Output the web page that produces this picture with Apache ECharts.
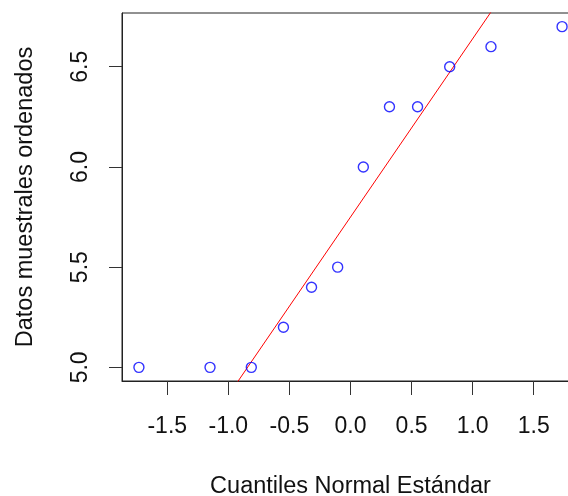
<!DOCTYPE html>
<html>
<head>
<meta charset="utf-8">
<script src="https://cdn.jsdelivr.net/npm/echarts@6/dist/echarts.min.js"></script>
<style>
html,body{margin:0;padding:0;background:#fff;}
#chart{width:568px;height:496px;}
</style>
</head>
<body>
<div id="chart"></div>
<script>
// Theoretical normal quantiles (x) and ordered sample values (y)
const theoreticalQuantiles = [-1.732, -1.150, -0.812, -0.549, -0.319, -0.105, 0.105, 0.319, 0.549, 0.812, 1.150, 1.732];
const sampleValues = [5.0, 5.0, 5.0, 5.2, 5.4, 5.5, 6.0, 6.3, 6.3, 6.5, 6.6, 6.7];
const xTicks = [-1.5, -1.0, -0.5, 0.0, 0.5, 1.0, 1.5];
const yTicks = [5.0, 5.5, 6.0, 6.5];
const xTitle = 'Cuantiles Normal Estándar';
const yTitle = 'Datos muestrales ordenados';

// R-style axis limits (data range extended by 4%)
function ext(arr) {
  const lo = Math.min(...arr), hi = Math.max(...arr), d = (hi - lo) * 0.04;
  return [lo - d, hi + d];
}
const [xmin, xmax] = ext(theoreticalQuantiles);
const [ymin, ymax] = ext(sampleValues);

// qqline through first and third quartiles (as R's qqline)
function quantile7(arr, p) {
  const s = arr.slice().sort((a, b) => a - b);
  const h = (s.length - 1) * p, lo = Math.floor(h);
  return s[lo] + (h - lo) * ((s[lo + 1] ?? s[lo]) - s[lo]);
}
const q1 = quantile7(sampleValues, 0.25), q3 = quantile7(sampleValues, 0.75);
const z = 0.6744897501960817;
const slope = (q3 - q1) / (2 * z);
const intercept = q1 + z * slope;
const lineData = [[xmin - 1, intercept + slope * (xmin - 1)], [xmax + 1, intercept + slope * (xmax + 1)]];

const font = 'Liberation Sans, Arial, sans-serif';
const txt = '#111';

const chart = echarts.init(document.getElementById('chart'), null, {renderer: 'canvas'});
chart.setOption({
  animation: false,
  backgroundColor: '#fff',
  grid: {
    left: 122, top: 13, width: 457, height: 368,
    outerBoundsMode: 'none', containLabel: false,
    show: true, borderColor: '#222', borderWidth: 1, backgroundColor: 'transparent'
  },
  xAxis: {
    type: 'value', min: xmin, max: xmax,
    name: xTitle, nameLocation: 'middle', nameGap: 94,
    nameTextStyle: {fontFamily: font, fontSize: 23.5, color: txt},
    axisLine: {show: true, onZero: false, lineStyle: {color: '#222', width: 1}},
    axisTick: {show: true, inside: false, length: 14, customValues: xTicks, lineStyle: {color: '#333', width: 1}},
    axisLabel: {show: true, margin: 34, customValues: xTicks, fontFamily: font, fontSize: 23, color: txt,
      formatter: v => v.toFixed(1)},
    splitLine: {show: false}
  },
  yAxis: {
    type: 'value', min: ymin, max: ymax,
    name: yTitle, nameLocation: 'middle', nameGap: 84, nameRotate: 90,
    nameTextStyle: {fontFamily: font, fontSize: 23.5, color: txt},
    axisLine: {show: true, onZero: false, lineStyle: {color: '#222', width: 1}},
    axisTick: {show: true, inside: false, length: 13, customValues: yTicks, lineStyle: {color: '#333', width: 1}},
    axisLabel: {show: true, rotate: 90, margin: 30, customValues: yTicks, fontFamily: font, fontSize: 23, color: txt,
      formatter: v => v.toFixed(1)},
    splitLine: {show: false}
  },
  series: [
    {
      type: 'line', data: lineData, symbol: 'none', clip: true, silent: true,
      lineStyle: {color: '#ff0000', width: 1}, z: 1
    },
    {
      type: 'scatter', data: theoreticalQuantiles.map((x, i) => [x, sampleValues[i]]),
      symbol: 'circle', symbolSize: 10, clip: false,
      itemStyle: {color: 'transparent', borderColor: '#0000ff', borderWidth: 1.4}, z: 2
    }
  ]
});
</script>
</body>
</html>
